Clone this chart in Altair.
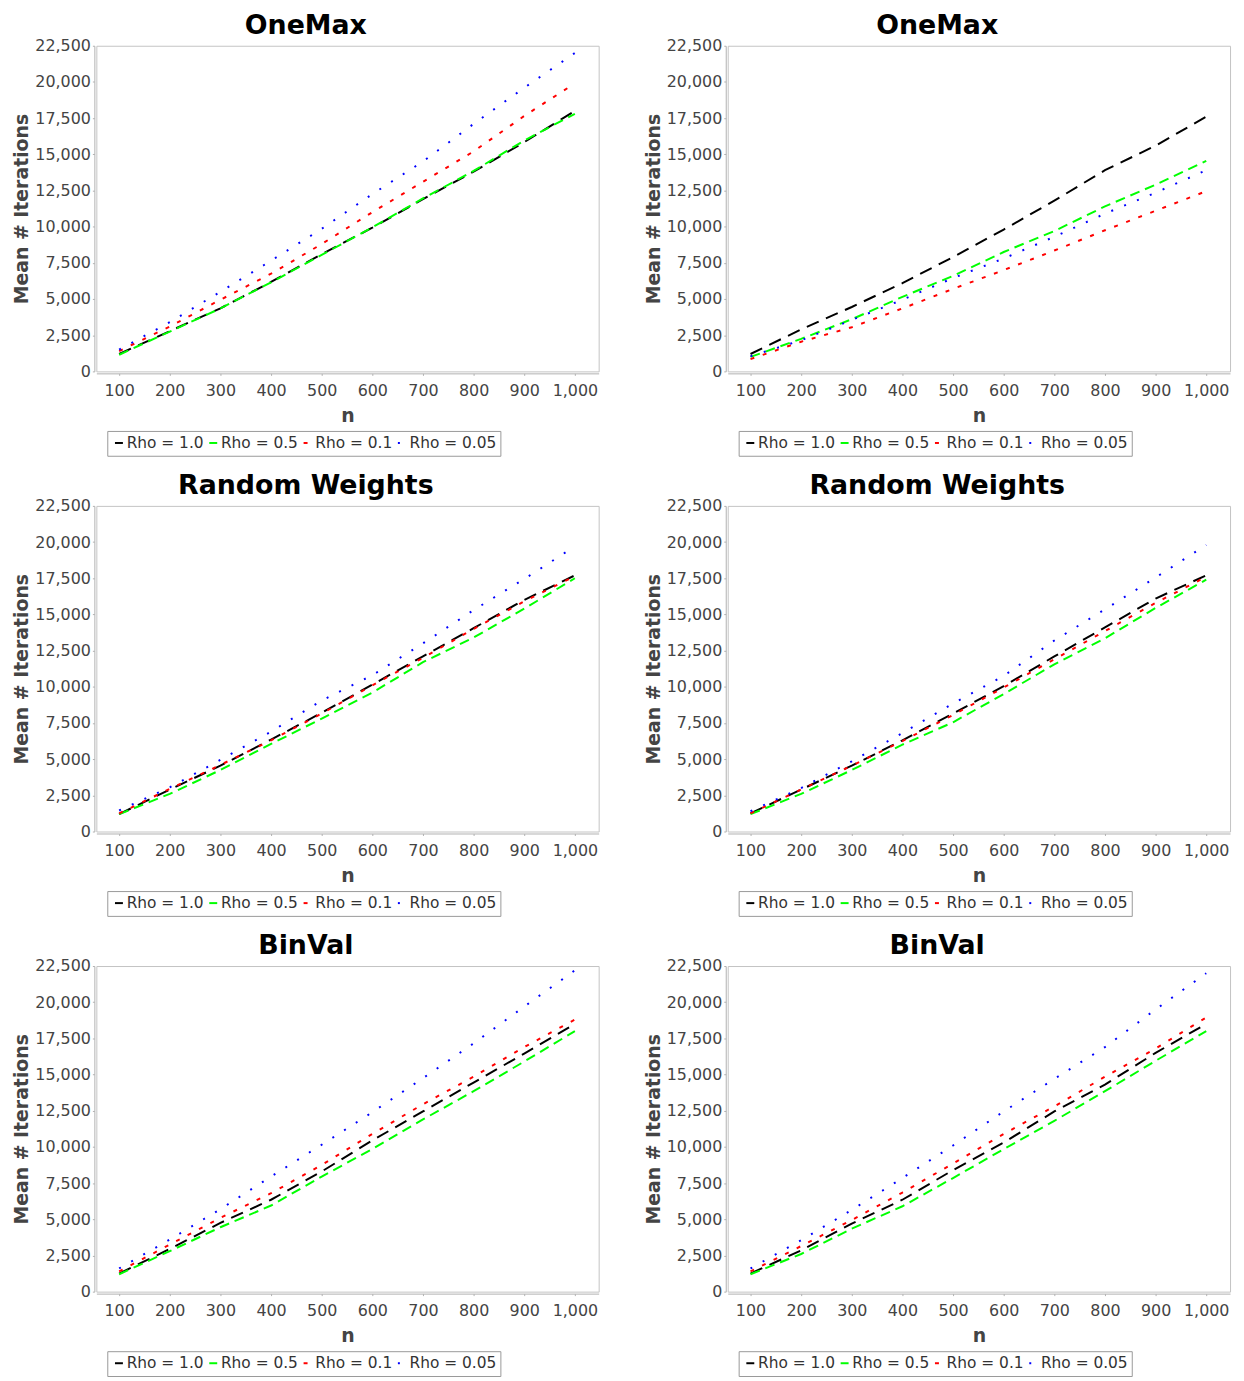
import altair as alt
import pandas as pd

N = [100, 200, 300, 400, 500, 600, 700, 800, 900, 1000]
SERIES = ["Rho = 1.0", "Rho = 0.5", "Rho = 0.1", "Rho = 0.05"]
COLORS = ["#000000", "#00ff00", "#ff0000", "#0000ff"]
DASHES = [[13, 8], [10, 6], [4, 9], [2, 12]]
Y_TICKS = [0, 2500, 5000, 7500, 10000, 12500, 15000, 17500, 20000, 22500]

# OneMax (left)
om_l_rho10 = [1200, 2780, 4360, 6180, 8100, 9930, 11900, 13800, 15840, 18000]
om_l_rho05 = [1150, 2750, 4350, 6150, 8050, 9950, 11950, 13850, 15950, 17800]
om_l_rho01 = [1400, 3100, 4950, 6750, 8800, 11000, 13100, 15200, 17650, 19900]
om_l_rho005 = [1500, 3400, 5500, 7650, 9850, 12250, 14500, 17100, 19600, 22000]

# OneMax (right)
om_r_rho10 = [1200, 2900, 4450, 6100, 7900, 9800, 11800, 13900, 15600, 17600]
om_r_rho05 = [1000, 2250, 3600, 5150, 6600, 8250, 9700, 11400, 12900, 14550]
om_r_rho01 = [850, 2050, 3050, 4350, 5700, 7000, 8350, 9750, 11100, 12450]
om_r_rho005 = [1050, 2150, 3550, 4950, 6450, 7800, 9300, 10900, 12350, 13900]

# Random Weights (left)
rw_l_rho10 = [1200, 2900, 4550, 6350, 8200, 10150, 12100, 14050, 16000, 17700]
rw_l_rho05 = [1200, 2600, 4250, 6050, 7800, 9600, 11700, 13400, 15400, 17500]
rw_l_rho01 = [1250, 2950, 4600, 6300, 8150, 10100, 12000, 14000, 15900, 17650]
rw_l_rho005 = [1450, 3050, 4950, 6900, 9050, 10800, 13000, 15300, 17450, 19700]

# Random Weights (right)
rw_r_rho10 = [1250, 2900, 4550, 6300, 8150, 10050, 12100, 14100, 16100, 17700]
rw_r_rho05 = [1200, 2600, 4250, 6000, 7550, 9500, 11550, 13350, 15450, 17400]
rw_r_rho01 = [1250, 2900, 4550, 6250, 8050, 9950, 11900, 13850, 15800, 17600]
rw_r_rho005 = [1400, 3000, 4850, 6800, 8850, 10750, 13200, 15350, 17550, 19800]

# BinVal (left)
bv_l_rho10 = [1250, 2950, 4750, 6350, 8300, 10450, 12450, 14450, 16450, 18500]
bv_l_rho05 = [1200, 2800, 4450, 5950, 7950, 9850, 11900, 13850, 15900, 18000]
bv_l_rho01 = [1400, 3250, 5100, 6800, 8750, 10900, 12950, 14850, 16900, 18800]
bv_l_rho005 = [1600, 3600, 5700, 7950, 10150, 12400, 14750, 17150, 19700, 22200]

# BinVal (right)
bv_r_rho10 = [1250, 2850, 4700, 6350, 8400, 10300, 12450, 14300, 16500, 18500]
bv_r_rho05 = [1200, 2600, 4350, 5900, 7850, 9850, 11800, 13850, 15950, 18000]
bv_r_rho01 = [1400, 3150, 4950, 6850, 8850, 10900, 12800, 14850, 16800, 18950]
bv_r_rho005 = [1600, 3550, 5650, 7850, 10100, 12450, 14700, 16900, 19500, 22000]

FONT = "DejaVu Sans"


def panel(title, series_values):
    rows = []
    for name, vals in zip(SERIES, series_values):
        for n, v in zip(N, vals):
            rows.append({"n": n, "v": v, "series": name})
    df = pd.DataFrame(rows)
    leg = alt.Legend(
        title=None, orient="none", legendX=11, legendY=388,
        direction="horizontal", columns=4,
        symbolType="stroke", symbolSize=64, symbolStrokeWidth=2,
        labelFont=FONT, labelFontSize=15.5, labelColor="#333333",
        labelOffset=0, columnPadding=0, padding=4,
        strokeColor="#999999", fillColor="#ffffff",
    )
    return alt.Chart(df).mark_line(strokeWidth=2, clip=True).encode(
        x=alt.X("n:Q",
                scale=alt.Scale(domain=[55, 1047], nice=False, zero=False),
                axis=alt.Axis(values=N, format=",d", title="n", grid=False,
                              labelPadding=7, titlePadding=8)),
        y=alt.Y("v:Q",
                scale=alt.Scale(domain=[0, 22500], nice=False),
                axis=alt.Axis(values=Y_TICKS, format=",d", title="Mean # Iterations",
                              grid=False, labelPadding=2,
                              titleX=-67, titleY=164, titleBaseline="alphabetic",
                              titleAngle=-90, titleAlign="center")),
        color=alt.Color("series:N", scale=alt.Scale(domain=SERIES, range=COLORS), legend=leg),
        strokeDash=alt.StrokeDash("series:N", scale=alt.Scale(domain=SERIES, range=DASHES), legend=leg),
        order=alt.Order("n:Q"),
    ).properties(
        width=506, height=328,
        title=alt.Title(title, font=FONT, fontSize=27, fontWeight="bold", color="#000000",
                        anchor="middle", frame="bounds", offset=-2),
    )


p1 = panel("OneMax", [om_l_rho10, om_l_rho05, om_l_rho01, om_l_rho005])
p2 = panel("OneMax", [om_r_rho10, om_r_rho05, om_r_rho01, om_r_rho005])
p3 = panel("Random Weights", [rw_l_rho10, rw_l_rho05, rw_l_rho01, rw_l_rho005])
p4 = panel("Random Weights", [rw_r_rho10, rw_r_rho05, rw_r_rho01, rw_r_rho005])
p5 = panel("BinVal", [bv_l_rho10, bv_l_rho05, bv_l_rho01, bv_l_rho005])
p6 = panel("BinVal", [bv_r_rho10, bv_r_rho05, bv_r_rho01, bv_r_rho005])


def row(a, b):
    return alt.hconcat(a, b, spacing=44).resolve_scale(
        color="independent", strokeDash="independent"
    ).resolve_legend(color="independent", strokeDash="independent")


chart = alt.vconcat(row(p1, p2), row(p3, p4), row(p5, p6), spacing=14.5).resolve_scale(
    color="independent", strokeDash="independent"
).resolve_legend(color="independent", strokeDash="independent").configure(
    padding={"left": 4, "top": -2, "right": 5, "bottom": 2}
).configure_view(
    stroke="#c4c4c4", strokeWidth=1
).configure_axis(
    labelFont=FONT, labelFontSize=16, labelColor="#444444",
    titleFont=FONT, titleFontSize=19, titleFontWeight="bold", titleColor="#444444",
    domainColor="#b0b0b0", tickColor="#b0b0b0", tickSize=2, offset=2,
)

chart.save("out.html", embed_options={"renderer": "svg", "actions": False})
